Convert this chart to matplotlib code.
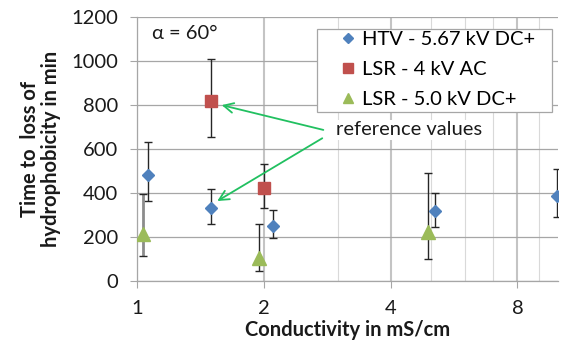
import matplotlib
matplotlib.use("Agg")
import matplotlib.pyplot as plt
from matplotlib.patches import Rectangle
from matplotlib.lines import Line2D
from matplotlib.ticker import FixedLocator, NullFormatter, FixedFormatter

plt.rcParams['font.family'] = ['Lato', 'DejaVu Sans']

# Conductivity (mS/cm) and time to loss of hydrophobicity (min), mean with min/max
htv_x = [1.06, 1.50, 2.10, 5.11, 9.92]
htv_y = [483, 331, 251, 317, 387]
htv_hi = [630, 416, 321, 401, 507]
htv_lo = [362, 257, 193, 243, 289]

lsr_ac_x = [1.50, 2.00]
lsr_ac_y = [817, 421]
lsr_ac_hi = [1010, 530]
lsr_ac_lo = [653, 330]

lsr_dc_x = [1.03, 1.95, 4.90]
lsr_dc_y = [213, 103, 223]
lsr_dc_hi = [394, 257, 489]
lsr_dc_lo = [111, 43, 99]

series_labels = ["HTV - 5.67 kV DC+", "LSR - 4 kV AC", "LSR - 5.0 kV DC+"]
x_ticks = [1, 2, 4, 8]
x_minor = [3, 5, 6, 7, 9]
y_ticks = [0, 200, 400, 600, 800, 1000, 1200]

FS = 14.5
TXT = '#1a1a1a'
BLUE, RED, GREEN = '#4f81bd', '#c0504d', '#9bbb59'

fig = plt.figure(figsize=(5.64, 3.42), dpi=100)
ax = fig.add_axes([0.2434, 0.1792, 0.7463, 0.7702])

ax.set_xscale('log')
ax.set_xlim(1, 10)
ax.set_ylim(0, 1200)
ax.xaxis.set_major_locator(FixedLocator(x_ticks))
ax.xaxis.set_major_formatter(FixedFormatter([str(t) for t in x_ticks]))
ax.xaxis.set_minor_locator(FixedLocator(x_minor))
ax.xaxis.set_minor_formatter(NullFormatter())
ax.set_yticks(y_ticks)

ax.grid(True, which='major', axis='y', color='#a6a6a6', lw=0.9, zorder=0)
ax.grid(True, which='major', axis='x', color='#c4c4c4', lw=1.5, zorder=0)
ax.grid(True, which='minor', axis='x', color='#d9d9d9', lw=0.8, zorder=0)
ax.set_axisbelow(True)

for side in ['top', 'right']:
    ax.spines[side].set_visible(False)
for side in ['left', 'bottom']:
    ax.spines[side].set_color('#a6a6a6')
    ax.spines[side].set_linewidth(0.9)

ax.tick_params(axis='both', which='major', length=5, color='#a6a6a6',
               labelsize=FS, labelcolor=TXT)
ax.tick_params(axis='y', pad=9)
ax.tick_params(axis='x', pad=9)
ax.tick_params(axis='x', which='minor', length=0)


def asym(y, hi, lo):
    return [[v - l for v, l in zip(y, lo)], [h - v for v, h in zip(y, hi)]]


err_kw = dict(ecolor='#262626', elinewidth=1.0, capsize=3.0, capthick=1.0, ls='none')

ax.errorbar(htv_x, htv_y, yerr=asym(htv_y, htv_hi, htv_lo), marker='D', ms=6.3,
            mfc=BLUE, mec=BLUE, zorder=3, **err_kw)
ax.errorbar(lsr_ac_x, lsr_ac_y, yerr=asym(lsr_ac_y, lsr_ac_hi, lsr_ac_lo), marker='s',
            ms=9.0, mfc=RED, mec=RED, zorder=3, **err_kw)
dc = ax.errorbar(lsr_dc_x, lsr_dc_y, yerr=asym(lsr_dc_y, lsr_dc_hi, lsr_dc_lo), marker='^',
                 ms=9.5, mfc=GREEN, mec=GREEN, zorder=3, **err_kw)
dc[2][0].set_colors(['#8c8c8c', '#262626', '#262626'])
dc[2][0].set_linewidths([2.0, 1.0, 1.0])

ax.set_xlabel("Conductivity in mS/cm", fontsize=FS, fontweight='bold', labelpad=2,
              color=TXT)
ax.set_ylabel("Time to  loss of\nhydrophobicity in min", fontsize=FS, fontweight='bold',
              labelpad=7, linespacing=1.05, color=TXT)

ax.text(0.034, 0.94, "α = 60°", transform=ax.transAxes, fontsize=FS,
        ha='left', va='center', color=TXT)

# legend frame and marker-only entries
ax.add_patch(Rectangle((0.426, 0.642), 0.985 - 0.426, 0.954 - 0.642, transform=ax.transAxes,
                       facecolor='white', edgecolor='#a6a6a6', lw=0.9, zorder=4))
handles = [
    Line2D([], [], ls='none', marker='D', ms=5.0, mfc=BLUE, mec=BLUE),
    Line2D([], [], ls='none', marker='s', ms=7.0, mfc=RED, mec=RED),
    Line2D([], [], ls='none', marker='^', ms=7.5, mfc=GREEN, mec=GREEN),
]
leg = ax.legend(handles, series_labels, loc='upper left', bbox_to_anchor=(0.482, 0.95),
                frameon=False, fontsize=FS, handlelength=0.8, handletextpad=0.3,
                labelspacing=0.66, borderaxespad=0, borderpad=0)
leg.set_zorder(5)

# annotation pointing to the reference measurements
arrow_kw = dict(arrowstyle='->,head_length=0.7,head_width=0.35', color='#21c060', lw=1.3,
                shrinkA=0, shrinkB=0)
ax.annotate("", xy=(1.587, 800), xytext=(2.767, 687), arrowprops=arrow_kw, zorder=4)
ax.annotate("", xy=(1.549, 363), xytext=(2.751, 649), arrowprops=arrow_kw, zorder=4)
ax.text(2.965, 687, "reference values", fontsize=FS, ha='left', va='center',
        color=TXT, zorder=5,
        bbox=dict(facecolor='white', edgecolor='none', pad=1))

fig.savefig("out.png", dpi=100)
